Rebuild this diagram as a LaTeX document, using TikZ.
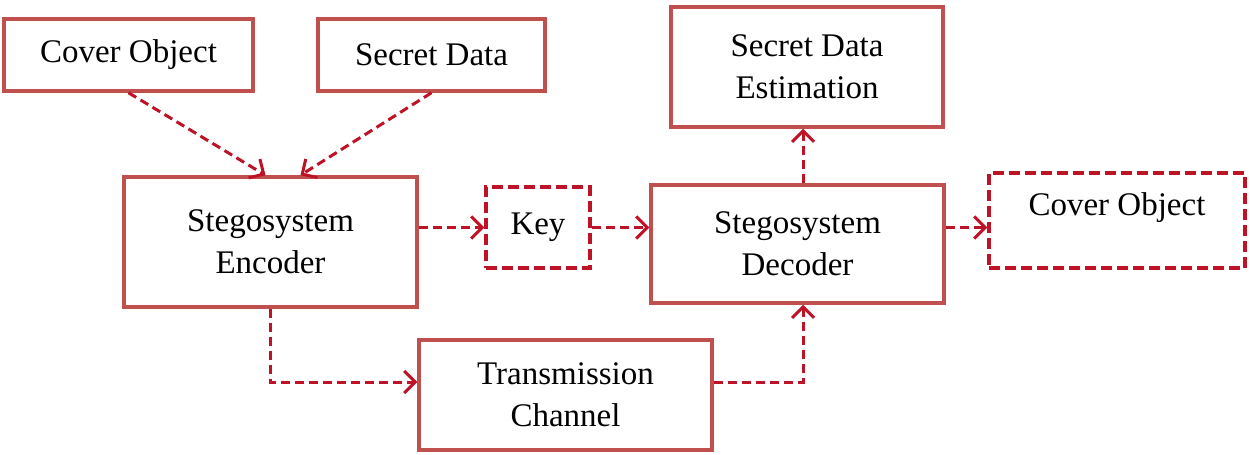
\documentclass[tikz,border=0pt]{standalone}
\usepackage{fontspec}
\setmainfont{Liberation Serif}
\usetikzlibrary{arrows.meta}
\definecolor{boxred}{RGB}{192,80,77}
\definecolor{dashred}{RGB}{190,18,38}
\begin{document}
\begin{tikzpicture}[x=1pt,y=-1pt,
  every node/.style={inner sep=0pt, align=center, font=\fontsize{33}{42}\selectfont},
  solidbox/.style={rectangle, draw=boxred, line width=3.5pt},
  dashbox/.style={rectangle, draw=dashred, line width=3.5pt, dash pattern=on 11pt off 5pt},
  flow/.style={draw=dashred, line width=3pt, dash pattern=on 9pt off 5pt,
    -{Straight Barb[length=11pt,width=22pt,line width=3pt]}}
]
\useasboundingbox (0,0) rectangle (1250,455);

% blocks
\node[solidbox, minimum width=249pt, minimum height=72pt] (cov) at (128.5,55) {Cover Object};
\node[solidbox, minimum width=227pt, minimum height=72pt] (sec) at (431.5,55) {Secret Data};
\node[solidbox, minimum width=272pt, minimum height=120pt] (est) at (807,67) {Secret Data\\Estimation};
\node[solidbox, minimum width=293pt, minimum height=130pt] (enc) at (270.5,242) {Stegosystem\\Encoder};
\node[dashbox, minimum width=104pt, minimum height=81pt] (key) at (538,227.5) {Key};
\node[solidbox, minimum width=293pt, minimum height=118pt] (dec) at (797.5,244) {Stegosystem\\Decoder};
\node[dashbox, minimum width=256pt, minimum height=95pt] (out) at (1117,220.5) {};
\node (outtext) at (1117,208) {Cover Object};
\node[solidbox, minimum width=293pt, minimum height=110pt] (chan) at (565.5,395) {Transmission\\Channel};

% helper points on the block borders
\coordinate (encL) at ([xshift=-5pt]enc.north);
\coordinate (encR) at ([xshift=30pt]enc.north);
\coordinate (decT) at ([xshift=5.5pt]dec.north);
\coordinate (decB) at ([xshift=5.5pt]dec.south);
\coordinate (chanIn) at ([yshift=13pt]chan.west);
\coordinate (chanOut) at ([yshift=13pt]chan.east);

% connectors
\draw[flow] (cov.south) -- (encL);
\draw[flow] (sec.south) -- (encR);
\draw[flow] (key.west -| enc.east) -- (key.west);
\draw[flow] (key.east) -- (key.east -| dec.west);
\draw[flow] (key.east -| dec.east) -- (key.east -| out.west);
\draw[flow] (decT) -- (decT |- est.south);
\draw[flow] (enc.south) |- (chanIn);
\draw[flow] (chanOut) -| (decB);
\end{tikzpicture}
\end{document}
